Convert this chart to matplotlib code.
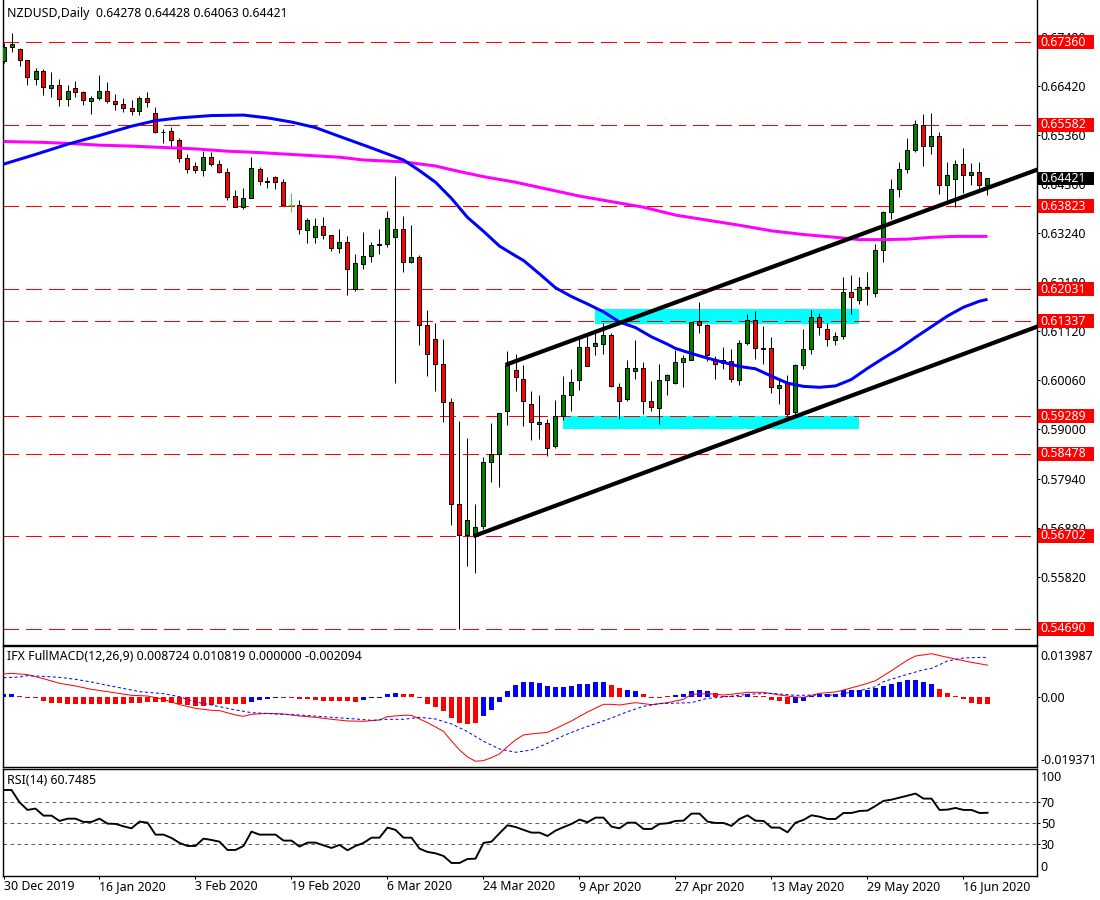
import matplotlib
matplotlib.use("Agg")
import matplotlib.pyplot as plt
from matplotlib.patches import Rectangle
from matplotlib.transforms import blended_transform_factory

plt.rcParams['font.family'] = ['Noto Sans', 'DejaVu Sans']

# ---- candles (one row per daily bar: high, body top, body bottom, low) ----
candle_dir = ("ggrrgrgrgr" "rggrrrrgrr" "grrrrgrrrr" "ggrgrrlrgg" "rrgrgggggg" "rgrrrrrrgg"
              "ggggrrrgrg" "gggrggrrgg" "rrgggggrrr" "grggrgrgrg" "ggrrggrggg" "gggggrgrgg" "rgrg")
highs = [.6735,.6756,.6723,.6699,.6680,.6678,.6671,.6658,.6643,.6652,
         .6632,.6620,.6665,.6650,.6624,.6615,.6611,.6620,.6628,.6596,
         .6550,.6553,.6529,.6494,.6477,.6501,.6499,.6483,.6464,.6417,
         .6421,.6488,.6466,.6445,.6447,.6440,.6411,.6395,.6356,.6356,
         .6358,.6321,.6334,.6317,.6278,.6326,.6304,.6334,.6371,.6447,
         .6360,.6341,.6276,.6159,.6129,.6095,.5967,.5918,.5881,.5738,
         .5840,.5913,.5936,.6069,.6062,.6039,.5982,.5974,.5922,.5963,
         .6015,.6030,.6095,.6101,.6112,.6129,.6108,.6000,.6051,.6093,
         .6045,.6004,.6041,.6019,.6072,.6060,.6133,.6175,.6127,.6058,
         .6077,.6073,.6093,.6149,.6155,.6123,.6099,.6006,.6017,.6041,
         .6118,.6157,.6151,.6129,.6110,.6229,.6233,.6229,.6239,.6300,
         .6371,.6442,.6477,.6529,.6568,.6581,.6583,.6542,.6477,.6483,
         .6507,.6475,.6477,.64428]
body_tops = [.6725,.6732,.6721,.6697,.6674,.6674,.6643,.6643,.6632,.6637,
             .6628,.6615,.6632,.6632,.6609,.6604,.6594,.6615,.6615,.6583,
             .6543,.6544,.6525,.6486,.6468,.6488,.6488,.6473,.6455,.6404,
             .6399,.6464,.6462,.6436,.6445,.6434,.6384,.6384,.6352,.6339,
             .6339,.6319,.6304,.6304,.6259,.6274,.6298,.6300,.6356,.6332,
             .6332,.6272,.6272,.6125,.6095,.6041,.5960,.5738,.5704,.5689,
             .5829,.5848,.5935,.6039,.6028,.6008,.5954,.5915,.5913,.5928,
             .5974,.6002,.6077,.6077,.6086,.6105,.6105,.5991,.6032,.6032,
             .6032,.5961,.6006,.6017,.6045,.6054,.6131,.6134,.6125,.6049,
             .6051,.6047,.6086,.6136,.6136,.6075,.6075,.5997,.6000,.6039,
             .6073,.6142,.6142,.6116,.6101,.6196,.6196,.6207,.6207,.6287,
             .6369,.6419,.6462,.6503,.6559,.6557,.6533,.6533,.6449,.6473,
             .6473,.6455,.6455,.64421]
body_bottoms = [.6695,.6725,.6697,.6661,.6656,.6639,.6638,.6613,.6613,.6628,
                .6611,.6609,.6615,.6609,.6604,.6594,.6587,.6587,.6607,.6542,
                .6542,.6525,.6486,.6462,.6460,.6460,.6473,.6457,.6401,.6381,
                .6381,.6399,.6436,.6434,.6434,.6384,.6384,.6332,.6330,.6315,
                .6319,.6291,.6291,.6246,.6203,.6257,.6274,.6298,.6300,.6315,
                .6261,.6261,.6125,.6062,.6041,.5959,.5738,.5671,.5671,.5671,
                .5692,.5830,.5848,.5939,.6013,.5961,.5915,.5912,.5859,.5864,
                .5928,.5974,.6006,.6036,.6080,.6084,.5993,.5961,.5965,.6026,
                .5961,.5948,.5946,.6006,.6000,.6045,.6051,.6125,.6060,.6041,
                .6043,.6008,.6006,.6086,.6075,.6074,.5991,.5989,.5933,.5937,
                .6039,.6073,.6121,.6095,.6093,.6101,.6185,.6179,.6206,.6194,
                .6287,.6369,.6419,.6462,.6503,.6512,.6512,.6429,.6429,.6442,
                .6449,.6449,.6427,.64278]
lows = [.6692,.6716,.6684,.6643,.6643,.6623,.6617,.6599,.6599,.6619,
        .6601,.6582,.6611,.6606,.6591,.6586,.6580,.6580,.6597,.6541,
        .6519,.6509,.6478,.6453,.6453,.6448,.6468,.6453,.6396,.6381,
        .6377,.6399,.6427,.6422,.6420,.6384,.6370,.6323,.6303,.6303,
        .6311,.6286,.6282,.6191,.6200,.6246,.6262,.6280,.6293,.6001,
        .6241,.6259,.6083,.6016,.5984,.5915,.5694,.5468,.5606,.5589,
        .5684,.5787,.5776,.5909,.5982,.5907,.5877,.5879,.5843,.5860,
        .5920,.5939,.5985,.6036,.6060,.6064,.5992,.5922,.5961,.6008,
        .5933,.5939,.5911,.5975,.5999,.5991,.6049,.6108,.6047,.6008,
        .6031,.6003,.5995,.6082,.6053,.6041,.5979,.5956,.5928,.5934,
        .6031,.6062,.6103,.6081,.6082,.6095,.6149,.6170,.6168,.6185,
        .6262,.6355,.6403,.6453,.6499,.6468,.6494,.6409,.6394,.6380,
        .6411,.6429,.6418,.64063]

# ---- moving averages (bar index, price) ----
ma_blue_idx = [0,4,8,12,16,19,22,26,30,33,36,39,42,46,50,52,54,56,58,60,62,64,65,67,69,71,73,75,77,79,81,83,
               84,86,88,90,92,94,96,98,100,102,104,106,108,110,112,114,116,118,120,122,123]
ma_blue_val = [.6473,.6494,.6516,.6535,.6555,.6567,.6573,.6578,.6579,.6573,.6564,.6552,.6533,.6508,.6482,.6459,
               .6434,.6399,.6358,.6328,.6296,.6275,.6265,.6236,.6206,.6187,.6171,.6154,.6132,.6120,.6100,.6084,
               .6075,.6064,.6054,.6045,.6036,.6031,.6015,.6000,.5993,.5991,.5994,.6008,.6032,.6054,.6075,.6099,
               .6122,.6145,.6164,.6177,.6181]
ma_pink_idx = [0,5,8,12,16,20,24,28,32,36,40,42,45,50,54,57,60,64,68,72,76,80,84,88,92,96,100,104,107,110,113,116,119,123]
ma_pink_val = [.6522,.6520,.6518,.6514,.6512,.6509,.6506,.6501,.6498,.6494,.6490,.6488,.6482,.6478,.6469,.6457,
               .6446,.6434,.6419,.6404,.6392,.6380,.6363,.6352,.6341,.6329,.6321,.6315,.6310,.6310,.6311,.6315,
               .6317,.6317]

# ---- drawn objects ----
level_prices = [.67360,.65582,.63823,.62031,.61337,.59289,.58478,.56702,.54690]
level_labels = ["0.67360","0.65582","0.63823","0.62031","0.61337","0.59289","0.58478","0.56702","0.54690"]
last_price = .64421
trend_upper_idx, trend_upper_val = [63, 129.2], [.6041, .6461]
trend_lower_idx, trend_lower_val = [59, 129.2], [.5671, .6122]
zone_upper = (74, 107, .6128, .6160)
zone_lower = (70, 107, .5902, .5928)
price_ticks = [.6748,.6642,.6536,.6430,.6324,.6218,.6112,.6006,.5900,.5794,.5688,.5582]

# ---- MACD ----
macd_hist = [.0008,.0008,.0002,-.0002,-.0002,-.0011,-.0016,-.0018,-.0021,-.0021,
             -.0021,-.0021,-.0020,-.0020,-.0020,-.0019,-.0018,-.0016,-.0014,-.0014,
             -.0015,-.0016,-.0019,-.0023,-.0026,-.0025,-.0022,-.0020,-.0020,-.0021,
             -.0021,-.0013,-.0009,-.0005,-.0004,-.0002,-.0003,-.0005,-.0007,-.0010,
             -.0011,-.0012,-.0011,-.0012,-.0013,-.0010,-.0004,-.0002,.0008,.0011,
             .0008,.0008,-.0004,-.0019,-.0028,-.0039,-.0057,-.0071,-.0074,-.0071,
             -.0054,-.0035,-.0014,.0016,.0033,.0041,.0041,.0037,.0030,.0026,
             .0026,.0030,.0035,.0035,.0041,.0041,.0033,.0024,.0019,.0016,
             .0008,-.0002,-.0002,.0002,.0005,.0008,.0016,.0019,.0016,.0010,
             .0002,.0002,.0003,.0008,.0002,.0002,-.0009,-.0011,-.0019,-.0016,
             -.0011,.0003,.0007,.0008,.0007,.0018,.0019,.0018,.0019,.0023,
             .0031,.0035,.0041,.0045,.0046,.0042,.0035,.0022,.0011,.0002,
             -.0007,-.0016,-.0020,-.0021]
hist_dir = ("bb" + "r"*29 + "bbbb" + "r"*10 + "bbbbb" + "r"*10 + "b"*16 + "rr" + "bb" + "r"*4 +
            "bbbbb" + "rrrr" + "b" + "rrrrr" + "b"*18 + "r"*7)
macd_idx = [0,1,3,5,7,9,11,13,16,18,20,22,24,26,27,29,30,31,33,35,37,39,41,43,45,47,48,50,51,53,55,56,57,58,59,60,
            61,62,63,64,65,66,68,69,71,73,75,76,77,79,81,83,85,86,88,90,92,93,95,97,99,100,102,104,105,107,108,109,
            111,113,114,116,118,119,121,123]
macd_val = [.00628,.00647,.0061,.0050,.00372,.00299,.00207,.00143,.00042,.00024,-.00068,-.00214,-.00315,-.0037,-.00379,
            -.00498,-.00535,-.0048,-.00453,-.00471,-.00526,-.00562,-.00617,-.00663,-.00672,-.00636,-.00544,-.00507,-.00507,
            -.00709,-.00947,-.01213,-.0146,-.01652,-.01771,-.01753,-.0167,-.0157,-.01368,-.01185,-.01047,-.0102,-.00975,
            -.00874,-.00663,-.00416,-.00205,-.00205,-.00224,-.00159,-.00214,-.00159,-.00068,.0007,.00088,.00051,.00097,
            .00125,.00125,.00051,-.00004,-.00013,.00097,.00134,.00189,.00308,.00372,.00445,.0072,.01013,.01123,.01187,
            .01086,.0104,.00949,.00872]
signal_idx = [0,2,3,5,7,9,11,13,16,17,20,22,24,26,29,31,34,37,41,44,46,48,50,52,54,56,58,60,62,64,66,68,70,72,74,76,78,
              80,82,86,88,90,93,96,99,102,104,107,109,110,112,115,116,118,120,122,123]
signal_val = [.00528,.00546,.00583,.00564,.00537,.00482,.00409,.00317,.00189,.00143,.00088,.00005,-.00141,-.00224,
              -.00361,-.00434,-.00471,-.00498,-.00562,-.00608,-.00645,-.00617,-.00617,-.00562,-.00608,-.00746,-.00956,
              -.01222,-.01433,-.01524,-.0146,-.01277,-.01066,-.00892,-.00736,-.00581,-.00407,-.0026,-.00187,-.00159,
              -.0004,-.00004,.0007,.00097,.00042,.00051,.00051,.0017,.0028,.00418,.00555,.00747,.00784,.00986,.01068,
              .01086,.01082]

# ---- RSI, one value per bar ----
rsi = [81.7,81.7,70.0,62.7,64.0,57.3,57.3,52.2,54.4,54.4,51.3,51.3,54.4,49.7,49.4,47.1,45.2,51.6,50.6,39.2,
       39.2,36.0,31.3,28.4,28.4,35.4,34.1,32.5,24.6,24.6,28.4,42.1,39.2,39.2,39.2,33.5,33.5,27.8,31.6,31.6,
       29.0,26.5,29.4,24.3,28.4,31.3,36.3,36.3,45.9,43.7,36.3,36.3,25.9,22.7,21.4,18.9,12.2,12.2,16.0,16.3,
       31.3,32.5,40.5,48.1,46.5,43.7,41.1,41.1,37.9,43.0,46.3,49.4,53.5,51.0,55.4,55.4,46.8,45.2,50.6,50.6,
       44.6,44.6,49.4,50.0,52.2,52.5,59.2,59.2,51.6,50.3,50.3,47.5,54.1,57.6,52.5,52.2,45.9,45.9,41.4,50.6,
       53.2,57.6,56.3,54.1,54.1,59.8,59.8,61.7,62.1,66.5,71.3,72.5,74.4,76.3,78.3,73.5,73.5,62.7,63.0,64.6,
       62.7,62.7,59.8,60.0]

date_ticks = [0,12,24,36,48,60,72,84,96,108,120]
date_labels = ["30 Dec 2019","16 Jan 2020","3 Feb 2020","19 Feb 2020","6 Mar 2020","24 Mar 2020",
               "9 Apr 2020","27 Apr 2020","13 May 2020","29 May 2020","16 Jun 2020"]

header_text = "NZDUSD,Daily  0.64278 0.64428 0.64063 0.64421"
macd_text = "IFX FullMACD(12,26,9) 0.008724 0.010819 0.000000 -0.002094"
rsi_text = "RSI(14) 60.7485"

# ---- layout ----
W, H = 1100, 900
PX = 72 / 100            # points per pixel at dpi 100
FS = 8.85
fig = plt.figure(figsize=(W / 100, H / 100), dpi=100, facecolor='white')

def pane(top, bottom, left=2.5, right=1036.7):
    return fig.add_axes([left / W, 1 - bottom / H, (right - left) / W, (bottom - top) / H])

ax = pane(0, 644.7)
ax_m = pane(646, 767.3)
ax_r = pane(769.3, 876)
X_LIM = (-0.125, 129.15)

for a in (ax, ax_m, ax_r):
    a.set_xlim(*X_LIM)
    a.yaxis.tick_right()
    a.tick_params(axis='y', length=3 * PX, width=PX, pad=1 * PX, labelsize=FS, colors='black')
    a.tick_params(axis='x', length=3 * PX, width=PX, pad=1.5 * PX, labelsize=FS)
    for s in a.spines.values():
        s.set_linewidth(1.4 * PX)
    a.set_xticks([])

ax.set_ylim(0.5435, 0.68276)
ax.spines['top'].set_visible(False)
ax.set_yticks(price_ticks)
ax.set_yticklabels([f"{v:.5f}" for v in price_ticks])

# zones
for x0, x1, y0, y1 in (zone_upper, zone_lower):
    ax.add_patch(Rectangle((x0, y0), x1 - x0, y1 - y0, facecolor='#00ffff', edgecolor='none', zorder=1))

# horizontal levels
for p in level_prices:
    ax.axhline(p, color='red', lw=1.2 * PX, linestyle=(0, (16 / 1.2, 8 / 1.2)), zorder=2, antialiased=False)

# candles
fill = {'g': '#007f00', 'r': '#ff0000', 'l': '#00e000'}
for i, (d, hi, t, b, lo) in enumerate(zip(candle_dir, highs, body_tops, body_bottoms, lows)):
    if d == 'l':
        ax.vlines(i, lo, hi, color='#32e632', lw=PX, zorder=3)
        ax.hlines(t, i - 0.4, i + 0.4, color='#32e632', lw=PX, zorder=3)
        continue
    ax.vlines(i, lo, hi, color='black', lw=PX, zorder=3)
    ax.bar(i, t - b, bottom=b, width=0.5, color=fill[d], edgecolor='black', linewidth=PX, zorder=3.1)

# moving averages and channel lines
ax.plot(ma_pink_idx, ma_pink_val, color='#ff00ff', lw=3.0 * PX, zorder=4, solid_capstyle='butt')
ax.plot(ma_blue_idx, ma_blue_val, color='#0000ff', lw=3.0 * PX, zorder=4.1, solid_capstyle='butt')
ax.plot(trend_upper_idx, trend_upper_val, color='black', lw=4.2 * PX, zorder=5)
ax.plot(trend_lower_idx, trend_lower_val, color='black', lw=4.2 * PX, zorder=5)

# price boxes on the axis
trans = blended_transform_factory(ax.transAxes, ax.transData)
bx0 = 1.0 + 1.2 / (1036.7 - 2.5)
bw = 56 / (1036.7 - 2.5)
tx = 1.0 + 4 / (1036.7 - 2.5)
box_h = 14 * 0.000216
for p, lab in zip(level_prices, level_labels):
    ax.add_patch(Rectangle((bx0, p - box_h / 2), bw, box_h, transform=trans, facecolor='red',
                           edgecolor='none', clip_on=False, zorder=10))
    ax.text(tx, p, lab, transform=trans, color='white', fontsize=FS, va='center', ha='left', zorder=11, clip_on=False)
box_h2 = 13 * 0.000216
ax.add_patch(Rectangle((bx0, last_price - box_h2 / 2), bw, box_h2, transform=trans, facecolor='black',
                       edgecolor='none', clip_on=False, zorder=10))
ax.text(tx, last_price, f"{last_price:.5f}", transform=trans, color='white', fontsize=FS, va='center', ha='left',
        zorder=11, clip_on=False)

ax.annotate(header_text, xy=(0, 1), xycoords='axes fraction', xytext=(4.5, -13), textcoords='offset pixels',
            fontsize=FS, va='center', ha='left', color='black')

# MACD pane
ax_m.set_ylim(-0.019371, 0.013987)
for i, (v, d) in enumerate(zip(macd_hist, hist_dir)):
    ax_m.bar(i, v, width=0.62, color='#0000ff' if d == 'b' else '#ff0000', edgecolor='none', zorder=2)
ax_m.plot(macd_idx, macd_val, color='#ff0000', lw=1.0 * PX, zorder=3)
ax_m.plot(signal_idx, signal_val, color='#0000ff', lw=1.0 * PX, linestyle=(0, (3, 2.5)), zorder=3)
ax_m.set_yticks([0.0])
ax_m.set_yticklabels(["0.00"])
mt = blended_transform_factory(ax_m.transAxes, ax_m.transData)
ax_m.annotate("0.013987", xy=(1, 0.013987), xycoords=mt, xytext=(4, -10), textcoords='offset pixels',
              fontsize=FS, va='center', ha='left', annotation_clip=False)
ax_m.annotate("-0.019371", xy=(1, -0.019371), xycoords=mt, xytext=(4, 7), textcoords='offset pixels',
              fontsize=FS, va='center', ha='left', annotation_clip=False)
ax_m.annotate(macd_text, xy=(0, 1), xycoords='axes fraction', xytext=(4.5, -11), textcoords='offset pixels',
              fontsize=FS, va='center', ha='left', zorder=6)

# RSI pane
ax_r.set_ylim(-0.2, 101.4)
for lvl in (70, 50, 30):
    ax_r.axhline(lvl, color='#606060', lw=1.0 * PX, linestyle=(0, (3.6, 3.4)), zorder=1)
ax_r.plot(range(len(rsi)), rsi, color='black', lw=1.9 * PX, zorder=3)
ax_r.set_yticks([70, 50, 30])
ax_r.set_yticklabels(["70", "50", "30"])
rt = blended_transform_factory(ax_r.transAxes, ax_r.transData)
ax_r.annotate("100", xy=(1, 100), xycoords=rt, xytext=(4, -7), textcoords='offset pixels',
              fontsize=FS, va='center', ha='left', annotation_clip=False)
ax_r.annotate("0", xy=(1, 0), xycoords=rt, xytext=(4, 8), textcoords='offset pixels',
              fontsize=FS, va='center', ha='left', annotation_clip=False)
ax_r.annotate(rsi_text, xy=(0, 1), xycoords='axes fraction', xytext=(4.5, -11), textcoords='offset pixels',
              fontsize=FS, va='center', ha='left', zorder=6)
ax_r.set_xticks(date_ticks)
ax_r.set_xticklabels(date_labels, ha='left')

fig.savefig('out.png', dpi=100, facecolor='white')
